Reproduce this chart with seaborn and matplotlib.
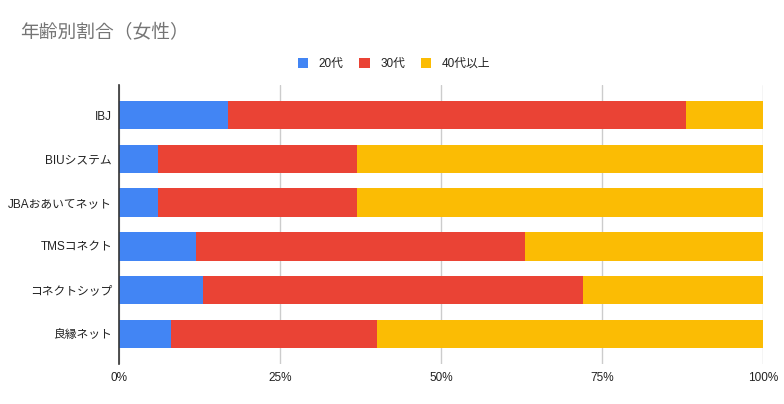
import pandas as pd
import seaborn as sns
import matplotlib.pyplot as plt
from matplotlib.patches import Patch
from matplotlib.ticker import PercentFormatter

# Data (share of each age group, %)
companies = ["IBJ", "BIUシステム", "JBAおあいてネット", "TMSコネクト", "コネクトシップ", "良縁ネット"]
age_20s = [17, 6, 6, 12, 13, 8]
age_30s = [71, 31, 31, 51, 59, 32]
age_40_plus = [12, 63, 63, 37, 28, 60]
series_names = ["20代", "30代", "40代以上"]
colors = ["#4285F4", "#EA4335", "#FBBC04"]


def main():
    sns.set_style("white")
    plt.rcParams['font.family'] = ['Liberation Sans', 'Noto Sans CJK JP', 'DejaVu Sans']

    df = pd.DataFrame({
        "company": companies,
        "20代": age_20s,
        "30代": age_30s,
        "40代以上": age_40_plus,
    })
    total = df[series_names].sum(axis=1)
    # cumulative shares so the layers can be drawn on top of each other
    cum = df[series_names].div(total, axis=0).cumsum(axis=1) * 100
    cum["company"] = df["company"]

    fig = plt.figure(figsize=(7.84, 4.04), dpi=100)
    ax = fig.add_axes([119 / 784, 1 - 364 / 404, 644 / 784, 279 / 404])

    # draw the widest layer first
    for name, color in reversed(list(zip(series_names, colors))):
        sns.barplot(data=cum, x=name, y="company", orient="h", color=color,
                    width=0.65, saturation=1, ax=ax, linewidth=0)

    ax.set_xlim(0, 100)
    ax.set_ylim(5.69, -0.69)
    ax.set_xticks([0, 25, 50, 75, 100])
    ax.xaxis.set_major_formatter(PercentFormatter(decimals=0))
    ax.set_xlabel("")
    ax.set_ylabel("")
    ax.grid(axis="x", color="#cccccc", linewidth=1)
    ax.set_axisbelow(True)
    for side in ["top", "right", "bottom"]:
        ax.spines[side].set_visible(False)
    ax.spines["left"].set_color("#333333")
    ax.spines["left"].set_linewidth(1.2)
    ax.spines["left"].set_zorder(5)
    ax.tick_params(axis="both", length=0, labelsize=8.5, colors="#222222")
    ax.tick_params(axis="x", pad=6)
    ax.tick_params(axis="y", pad=5)

    fig.text(20 / 784, 1 - 33 / 404, "年齢別割合（女性）", fontsize=13.5,
             color="#757575", va="center", ha="left")

    handles = [Patch(facecolor=c, edgecolor="none") for c in colors]
    fig.legend(handles, series_names, loc="center", bbox_to_anchor=(394 / 784, 1 - 64 / 404),
               ncol=3, frameon=False, fontsize=8.5, handlelength=0.9, handleheight=0.9,
               handletextpad=0.9, columnspacing=1.3, labelcolor="#222222")

    fig.savefig("out.png", dpi=100)


if __name__ == '__main__':
    main()
